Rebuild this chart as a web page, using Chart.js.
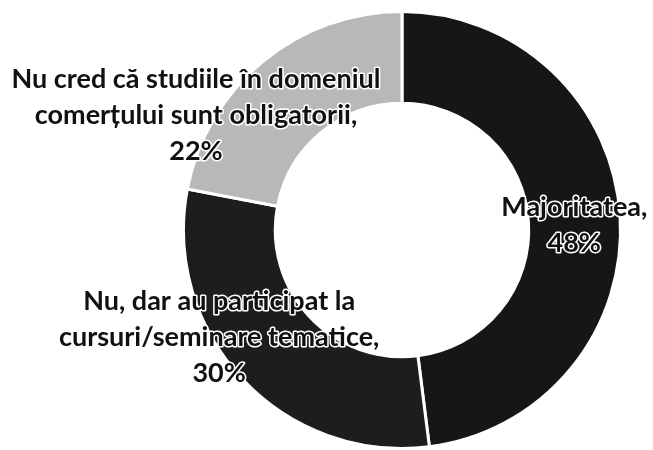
<!DOCTYPE html>
<html>
<head>
<meta charset="utf-8">
<script src="https://cdn.jsdelivr.net/npm/chart.js@4"></script>
<style>
  html, body { margin: 0; padding: 0; background: #fff; }
  #wrap { width: 653px; height: 450px; }
</style>
</head>
<body>
<div id="wrap"><canvas id="doughnut" width="653" height="450"></canvas></div>
<script>
// data
const categories = [
  "Majoritatea",
  "Nu, dar au participat la cursuri/seminare tematice",
  "Nu cred că studiile în domeniul comerțului sunt obligatorii",
];
const values = [48, 30, 22];
const labelLines = [
  ["Majoritatea,"],
  ["Nu, dar au participat la", "cursuri/seminare tematice,"],
  ["Nu cred că studiile în domeniul", "comerțului sunt obligatorii,"],
];
const sliceColors = ["#161616", "#1d1d1d", "#b8b8b8"];

// where Excel put each label, relative to the slice centre
const labelShift = [
  [0, 6],
  [-57, -11],
  [-96, 18],
];

const dataLabels = {
  id: "dataLabels",
  afterDatasetsDraw(chart) {
    const { ctx } = chart;
    const meta = chart.getDatasetMeta(0);
    const total = values.reduce((a, b) => a + b, 0);
    ctx.save();
    ctx.font = "bold 27px Lato";
    ctx.textAlign = "center";
    ctx.textBaseline = "middle";
    ctx.lineJoin = "round";
    meta.data.forEach((arc, i) => {
      const pos = arc.tooltipPosition();
      const lines = labelLines[i].concat([Math.round(values[i] / total * 100) + "%"]);
      const lh = 36;
      const x = pos.x + labelShift[i][0];
      const y0 = pos.y + labelShift[i][1] - (lines.length - 1) * lh / 2;
      lines.forEach((t, k) => {
        ctx.strokeStyle = "#fff";
        ctx.lineWidth = 3;
        ctx.strokeText(t, x, y0 + k * lh);
        ctx.fillStyle = "#111";
        ctx.fillText(t, x, y0 + k * lh);
      });
    });
    ctx.restore();
  },
};

const cty = document.getElementById("doughnut");

new Chart(cty, {
  type: "doughnut",
  data: {
    labels: categories,
    datasets: [
      {
        data: values,
        backgroundColor: sliceColors,
        borderColor: "#fff",
        borderWidth: 3,
      },
    ],
  },
  options: {
    responsive: false,
    animation: false,
    cutout: "58%",
    layout: { padding: { left: 151, right: 0, top: 10, bottom: 0 } },
    plugins: {
      legend: { display: false },
      tooltip: { enabled: false },
    },
  },
  plugins: [dataLabels],
});
</script>
</body>
</html>
